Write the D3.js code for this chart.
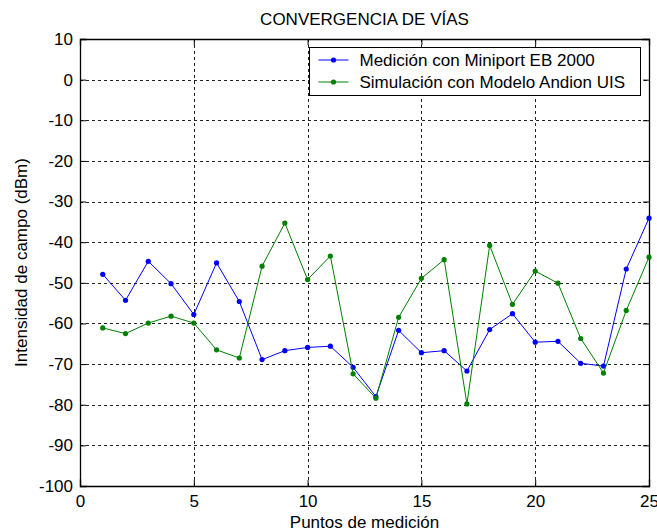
<!DOCTYPE html>
<html>
<head>
<meta charset="utf-8">
<script src="https://cdn.jsdelivr.net/npm/d3@7"></script>
<style>
  html, body { margin: 0; padding: 0; background: #fff; }
  text { font-family: "Liberation Sans", Arial, sans-serif; fill: #000; }
</style>
</head>
<body>
<svg id="chart" width="657" height="532"></svg>
<script>
// Measurement points 1..25
const puntos = d3.range(1, 26);

// Field strength (dBm) measured with the Miniport EB 2000
const medicion = [-47.9, -54.3, -44.7, -50.2, -57.8, -45.1, -54.6, -68.9, -66.7, -65.9,
                  -65.6, -70.8, -78.0, -61.7, -67.2, -66.7, -71.7, -61.5, -57.6, -64.6,
                  -64.4, -69.8, -70.5, -46.6, -34.1];

// Field strength (dBm) simulated with the Andion UIS model
const simulacion = [-61.1, -62.5, -59.9, -58.2, -59.9, -66.5, -68.5, -45.9, -35.3, -49.2,
                    -43.4, -72.4, -78.4, -58.5, -48.9, -44.3, -79.8, -40.8, -55.3, -47.1,
                    -50.1, -63.7, -72.2, -56.8, -43.7];

const xTicks = [0, 5, 10, 15, 20, 25];
const yTicks = [10, 0, -10, -20, -30, -40, -50, -60, -70, -80, -90, -100];

const series = [
  { name: "Medición con Miniport EB 2000", values: medicion, color: "#0000ff" },
  { name: "Simulación con Modelo Andion UIS", values: simulacion, color: "#008000" }
];

const svg = d3.select("#chart");
const plotL = 80, plotR = 649, plotT = 39, plotB = 486;

const x = d3.scaleLinear().domain([0, 25]).range([plotL, plotR]);
const y = d3.scaleLinear().domain([-100, 10]).range([plotB, plotT]);

const fontSize = 17;
const fmt = d => String(d); // plain hyphen-minus for negative ticks

// Dashed grid
const grid = svg.append("g").attr("stroke", "#222").attr("stroke-width", 1)
  .attr("stroke-dasharray", "3,3").attr("shape-rendering", "crispEdges");
grid.selectAll("line.gx").data(xTicks.slice(1, -1)).join("line")
  .attr("x1", d => Math.round(x(d)) + 0.5).attr("x2", d => Math.round(x(d)) + 0.5)
  .attr("y1", plotT).attr("y2", plotB);
grid.selectAll("line.gy").data(yTicks.slice(1, -1)).join("line")
  .attr("x1", plotL).attr("x2", plotR)
  .attr("y1", d => Math.round(y(d)) + 0.5).attr("y2", d => Math.round(y(d)) + 0.5);

// Axes with inward ticks on all four sides
const tickLen = 6;
const axB = d3.axisBottom(x).tickValues(xTicks).tickSize(-tickLen).tickPadding(9).tickFormat(fmt);
const axT = d3.axisTop(x).tickValues(xTicks).tickSize(-tickLen).tickFormat("");
const axL = d3.axisLeft(y).tickValues(yTicks).tickSize(-tickLen).tickPadding(7).tickFormat(fmt);
const axR = d3.axisRight(y).tickValues(yTicks).tickSize(-tickLen).tickFormat("");

function styleAxis(g) {
  g.select(".domain").attr("stroke", "#000").attr("stroke-width", 1.3);
  g.selectAll(".tick line").attr("stroke", "#000");
  g.selectAll(".tick text")
    .attr("font-size", fontSize)
    .attr("font-family", "Liberation Sans, Arial, sans-serif").attr("fill", "#000");
}
svg.append("g").attr("transform", `translate(0,${plotB})`).call(axB).call(styleAxis);
svg.append("g").attr("transform", `translate(0,${plotT})`).call(axT).call(styleAxis);
svg.append("g").attr("transform", `translate(${plotL},0)`).call(axL).call(styleAxis);
svg.append("g").attr("transform", `translate(${plotR},0)`).call(axR).call(styleAxis);
svg.selectAll(".domain").attr("stroke-linecap", "square");

// Data lines with dot markers
const line = d3.line().x((d, i) => x(puntos[i])).y(d => y(d));
series.forEach(s => {
  svg.append("path").datum(s.values)
    .attr("fill", "none").attr("stroke", s.color).attr("stroke-width", 1)
    .attr("d", line);
  svg.append("g").selectAll("circle").data(s.values).join("circle")
    .attr("cx", (d, i) => x(puntos[i])).attr("cy", d => y(d))
    .attr("r", 2.6).attr("fill", s.color);
});

// Legend
const lg = svg.append("g").attr("transform", "translate(309.5,47.5)");
lg.append("rect").attr("width", 331).attr("height", 48)
  .attr("fill", "#fff").attr("stroke", "#000").attr("stroke-width", 1);
series.forEach((s, i) => {
  const yy = 12.5 + i * 22;
  lg.append("line").attr("x1", 9).attr("x2", 39).attr("y1", yy).attr("y2", yy)
    .attr("stroke", s.color).attr("stroke-width", 1);
  lg.append("circle").attr("cx", 24).attr("cy", yy).attr("r", 2.6).attr("fill", s.color);
  lg.append("text").attr("x", 50).attr("y", yy).attr("dy", "0.35em")
    .attr("font-size", fontSize).text(s.name);
});

// Title and axis labels
svg.append("text").attr("x", (plotL + plotR) / 2).attr("y", 25)
  .attr("text-anchor", "middle").attr("font-size", fontSize)
  .text("CONVERGENCIA DE VÍAS");
svg.append("text").attr("x", (plotL + plotR) / 2).attr("y", 528)
  .attr("text-anchor", "middle").attr("font-size", fontSize)
  .text("Puntos de medición");
svg.append("text").attr("transform", `translate(27,${(plotT + plotB) / 2}) rotate(-90)`)
  .attr("text-anchor", "middle").attr("font-size", fontSize)
  .text("Intensidad de campo (dBm)");
</script>
</body>
</html>
